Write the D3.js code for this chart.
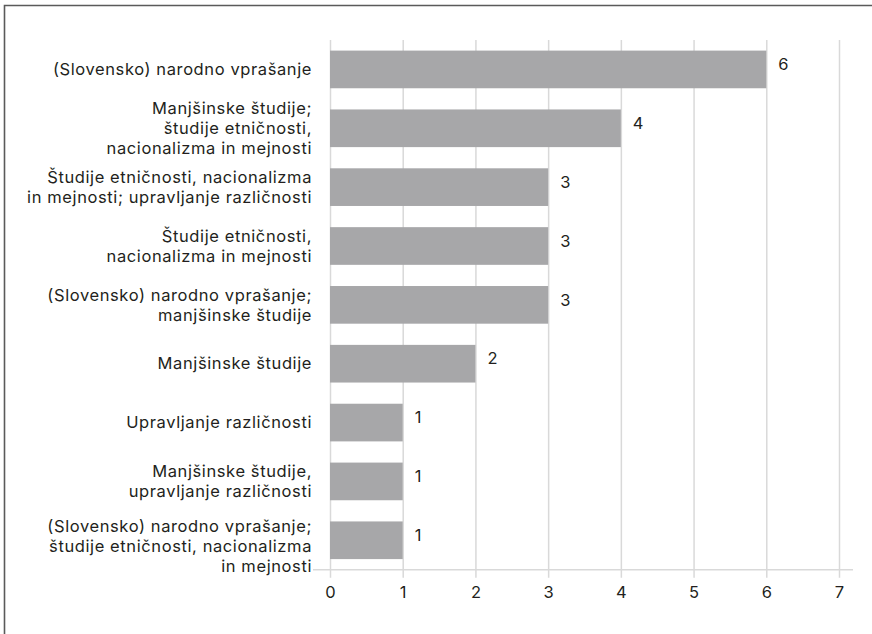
<!DOCTYPE html>
<html lang="sl">
<head>
  <meta charset="utf-8">
  <title>Bar chart</title>
  <style>
    body { margin: 0; padding: 0; background: #fff; }
    svg { display: block; font-family: Inter, sans-serif; }
  </style>
</head>
<body>
  <div id="my_dataviz"></div>
  <script src="https://d3js.org/d3.v7.min.js"></script>
  <script>
    // data (top to bottom)
    var categories = [
      ["(Slovensko) narodno vprašanje"],
      ["Manjšinske študije;", "študije etničnosti,", "nacionalizma in mejnosti"],
      ["Študije etničnosti, nacionalizma", "in mejnosti; upravljanje različnosti"],
      ["Študije etničnosti,", "nacionalizma in mejnosti"],
      ["(Slovensko) narodno vprašanje;", "manjšinske študije"],
      ["Manjšinske študije"],
      ["Upravljanje različnosti"],
      ["Manjšinske študije,", "upravljanje različnosti"],
      ["(Slovensko) narodno vprašanje;", "študije etničnosti, nacionalizma", "in mejnosti"]
    ];
    var values = [6, 4, 3, 3, 3, 2, 1, 1, 1];
    var xTicks = [0, 1, 2, 3, 4, 5, 6, 7];

    var W = 872, H = 634;
    var margin = { top: 40, right: 33, bottom: 64, left: 330 };
    var fs = "16.5px";

    var svg = d3.select("#my_dataviz")
      .append("svg")
      .attr("width", W)
      .attr("height", H);

    // frame (only top and left edge fall inside the picture)
    svg.append("path")
      .attr("d", "M4.5," + H + "V5.5H" + W)
      .attr("fill", "none")
      .attr("stroke", "#5a5a5a")
      .attr("stroke-width", 1.6);

    var x = d3.scaleLinear().domain([0, 7]).range([margin.left, W - margin.right]);
    var y = d3.scaleBand()
      .domain(d3.range(values.length))
      .range([margin.top, H - margin.bottom - 0.3])
      .paddingInner(0.36)
      .paddingOuter(0.18);

    var baseY = H - margin.bottom - 0.3;

    // vertical gridlines + ticks
    var gx = svg.append("g")
      .attr("transform", "translate(0," + baseY + ")")
      .call(d3.axisBottom(x).tickValues(xTicks).tickSize(8).tickFormat(d3.format("d")));
    gx.select(".domain").remove();
    gx.selectAll(".tick line")
      .attr("y1", margin.top - baseY)
      .attr("stroke", "#d9d9d9")
      .attr("stroke-width", 1.5);
    gx.selectAll(".tick text")
      .attr("y", 17)
      .attr("fill", "#231f20")
      .style("font-size", fs)
      .style("font-family", "Inter, sans-serif");

    // baseline, runs a bit past the plot on both sides
    svg.append("line")
      .attr("x1", margin.left - 17)
      .attr("x2", W - margin.right + 14)
      .attr("y1", baseY)
      .attr("y2", baseY)
      .attr("stroke", "#d9d9d9")
      .attr("stroke-width", 1.5);

    // bars
    svg.append("g")
      .selectAll("rect")
      .data(values)
      .enter()
      .append("rect")
      .attr("x", x(0))
      .attr("y", function (d, i) { return y(i); })
      .attr("width", function (d) { return x(d) - x(0); })
      .attr("height", y.bandwidth())
      .attr("fill", "#a7a7a9");

    // value labels
    svg.append("g")
      .selectAll("text")
      .data(values)
      .enter()
      .append("text")
      .attr("x", function (d) { return x(d) + 12; })
      .attr("y", function (d, i) { return y(i) + y.bandwidth() / 2 - 5; })
      .attr("dy", "0.35em")
      .attr("fill", "#231f20")
      .style("font-size", fs)
      .text(function (d) { return d; });

    // category labels
    var shift = { 8: 6 };
    var lineH = 20;
    var lab = svg.append("g")
      .selectAll("text")
      .data(categories)
      .enter()
      .append("text")
      .attr("text-anchor", "end")
      .attr("fill", "#231f20")
      .style("font-size", fs)
      .style("letter-spacing", "0.6px");
    lab.each(function (lines, i) {
      var cy = y(i) + y.bandwidth() / 2 + (shift[i] || 0);
      var y0 = cy - (lines.length - 1) * lineH / 2;
      d3.select(this).selectAll("tspan")
        .data(lines)
        .enter()
        .append("tspan")
        .attr("x", 312)
        .attr("y", function (d, k) { return y0 + k * lineH; })
        .attr("dy", "0.35em")
        .text(function (d) { return d; });
    });
  </script>
</body>
</html>
